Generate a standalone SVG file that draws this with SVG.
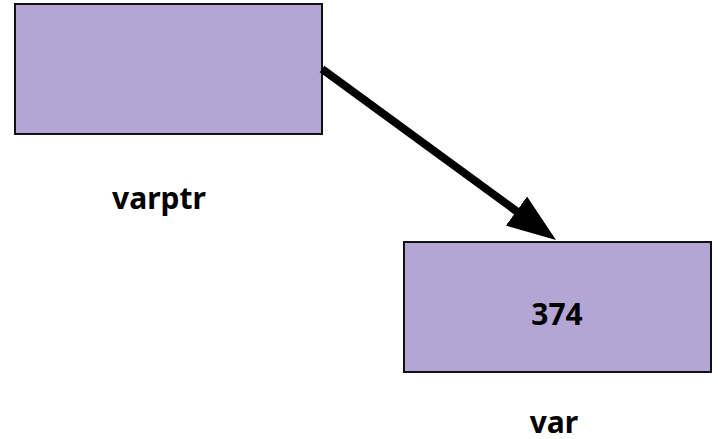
<svg xmlns="http://www.w3.org/2000/svg" width="718" height="439" viewBox="0 0 718 439">
<style>
.box{fill:#b3a6d5;stroke:#111;stroke-width:2}
.lbl{font-family:"Noto Sans","DejaVu Sans",sans-serif;font-weight:bold;font-size:30px;fill:#000;text-anchor:middle}
.conn{stroke:#000;stroke-width:8;fill:none}
</style>
<defs>
<marker id="ah" markerUnits="userSpaceOnUse" markerWidth="60" markerHeight="60" refX="9" refY="20" orient="auto" viewBox="0 0 60 40">
<path d="M0,2 L49,20 L0,38 Z" fill="#000"/>
</marker>
</defs>
<g id="varptr">
<rect class="box" x="15" y="4" width="307" height="130"/>
<text class="lbl" x="159" y="209">varptr</text>
</g>
<g id="var">
<rect class="box" x="404" y="242" width="307" height="130"/>
<text class="lbl" x="557" y="325">374</text>
<text class="lbl" x="554" y="433">var</text>
</g>
<g id="connectors">
<line class="conn" x1="322" y1="69" x2="523.7" y2="216.4" marker-end="url(#ah)"/>
</g>
</svg>
